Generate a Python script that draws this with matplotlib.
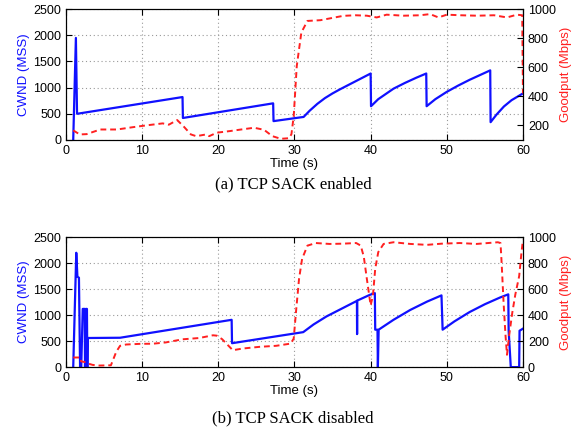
import matplotlib
matplotlib.use("Agg")
import matplotlib.pyplot as plt

# (a) TCP SACK enabled
t_cwnd_a = [0.95, 1.3, 1.45, 15.3, 15.35, 27.2, 27.25, 31.2, 32, 33, 34, 35, 36, 37, 38, 39,
            40, 40.05, 41, 42, 43, 44.5, 46, 47.3, 47.35, 48.5, 50, 51.5, 53, 54.5, 55.7,
            55.75, 56.5, 57.5, 58.5, 60]
cwnd_a = [0, 1950, 500, 820, 420, 700, 360, 440, 560, 690, 800, 890, 970, 1045, 1120, 1195,
          1270, 645, 780, 880, 980, 1090, 1190, 1270, 645, 780, 920, 1040, 1150, 1250, 1330,
          340, 480, 640, 760, 890]
t_gp_a = [0.95, 1.8, 2.7, 4.5, 6.7, 8.8, 10.5, 12.7, 13.5, 14.6, 15.5, 16.4, 17.1, 18.4,
          18.8, 19.8, 21.5, 23.0, 24.7, 26.0, 27.1, 28.2, 29.3, 29.6, 29.9, 30.3, 30.9,
          31.7, 33.4, 35, 36.4, 38, 39.5, 40.8, 42.1, 44.3, 46.5, 47.8, 48.9, 50.0, 51.8,
          54.0, 56.2, 57.9, 59.2, 59.9, 60]
gp_a = [166, 138, 140, 172, 172, 188, 200, 214, 205, 237, 190, 138, 126, 138,
        126, 150, 161, 172, 184, 170, 126, 108, 112, 140, 264, 609, 839,
        919, 924, 940, 954, 958, 955, 943, 962, 955, 958, 966, 943, 962, 958,
        955, 958, 943, 962, 958, 420]

# (b) TCP SACK disabled
t_cwnd_b = [0.95, 1.35, 1.5, 1.7, 1.85, 2.0, 2.2, 2.45, 2.5, 2.6, 2.75, 2.8, 2.85, 7.1,
            21.75, 21.8, 31.15, 32.5, 34.2, 36.4, 38.2, 38.22, 38.24, 39.9, 40.55, 40.6,
            40.9, 40.95, 41.05, 43.0, 45.2, 47.4, 49.3, 49.45, 51, 53, 55, 57, 58.07,
            58.12, 58.4, 59.5, 59.55, 60]
cwnd_b = [0, 2200, 1740, 1720, 0, 0, 1120, 1120, 0, 1120, 1120, 0, 560, 565,
          910, 460, 673, 820, 975, 1140, 1275, 635, 1280, 1391, 1423, 720,
          720, 0, 720, 910, 1100, 1260, 1380, 720, 880, 1060, 1210, 1340, 1400,
          700, 0, 0, 700, 740]
t_gp_b = [0.95, 1.9, 2.0, 2.7, 3.1, 3.5, 4.4, 5.9, 6.1, 6.6, 7.1, 7.9, 9.7, 11.4, 13.1,
          15.3, 17.5, 19.3, 19.8, 20.5, 21.9, 23.2, 25.4, 27.6, 29.5, 29.9, 30.2, 30.6,
          31.0, 31.7, 32.8, 34.6, 36.3, 38.1, 38.7, 39.1, 39.5, 40.0, 40.3, 40.6, 41.0,
          41.7, 43.0, 45.2, 47.4, 49.3, 51.7, 53.9, 56.7, 57.05, 57.2, 57.45, 57.7, 57.9,
          58.2, 58.6, 59.0, 59.5, 59.8, 60]
gp_b = [74, 74, 44, 36, 24, 17, 12, 14, 44, 118, 164, 174, 179, 180, 190,
        214, 224, 245, 242, 215, 130, 143, 156, 164, 181, 220, 426, 680,
        833, 935, 955, 948, 950, 955, 935, 850, 680, 475, 550, 757, 885,
        948, 961, 948, 941, 950, 955, 948, 961, 955, 800, 500, 250, 95,
        250, 420, 560, 700, 880, 980]

x_ticks = [0, 10, 20, 30, 40, 50, 60]
cwnd_ticks = [0, 500, 1000, 1500, 2000, 2500]

BLUE = "#1010ff"
RED = "#ff2020"
SANS = ["Liberation Sans", "DejaVu Sans"]


def draw_panel(ax, t_cwnd, cwnd, t_gp, gp, gp_lim, gp_ticks):
    ax.grid(True, color="#999999", linestyle=(0, (1, 2.5)), linewidth=0.8)
    ax.plot(t_cwnd, cwnd, color=BLUE, linewidth=1.6)
    ax.set_xlim(0, 60)
    ax.set_ylim(0, 2500)
    ax.set_xticks(x_ticks)
    ax.set_yticks(cwnd_ticks)
    ax.tick_params(direction="in", top=True, labelsize=9, length=4)
    ax.set_xlabel("Time (s)", fontsize=9.5, labelpad=1)
    ax.set_ylabel("CWND (MSS)", fontsize=9.5, color=BLUE, labelpad=2)

    ax2 = ax.twinx()
    ax2.plot(t_gp, gp, color=RED, linewidth=1.4, linestyle=(0, (3, 2)))
    ax2.set_ylim(*gp_lim)
    ax2.set_yticks(gp_ticks)
    ax2.tick_params(direction="in", labelsize=9, length=4)
    ax2.set_ylabel("Goodput (Mbps)", fontsize=9.5, color=RED, labelpad=3)
    for a in (ax, ax2):
        for lbl in a.get_xticklabels() + a.get_yticklabels():
            lbl.set_family(SANS)
    ax.xaxis.label.set_family(SANS)
    ax.yaxis.label.set_family(SANS)
    ax2.yaxis.label.set_family(SANS)


fig = plt.figure(figsize=(5.84, 4.36), dpi=100)
ax_a = fig.add_axes([0.113, 0.679, 0.7825, 0.300])
ax_b = fig.add_axes([0.113, 0.158, 0.7825, 0.298])

draw_panel(ax_a, t_cwnd_a, cwnd_a, t_gp_a, gp_a, (100, 1000), [200, 400, 600, 800, 1000])
draw_panel(ax_b, t_cwnd_b, cwnd_b, t_gp_b, gp_b, (0, 1000), [0, 200, 400, 600, 800, 1000])

fig.text(0.502, 0.576, "(a) TCP SACK enabled", ha="center", va="center",
         fontsize=12, family=["Liberation Serif", "DejaVu Serif"])
fig.text(0.502, 0.041, "(b) TCP SACK disabled", ha="center", va="center",
         fontsize=12, family=["Liberation Serif", "DejaVu Serif"])

fig.savefig("out.png", dpi=100)
